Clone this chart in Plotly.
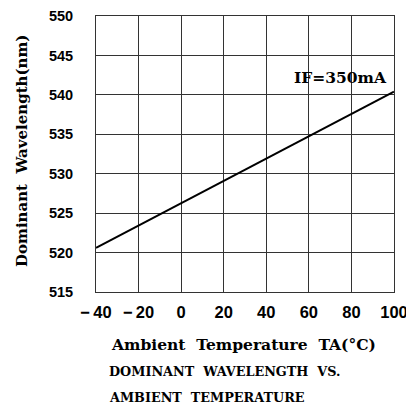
import plotly.graph_objects as go

# Data
temps = [-40, 100]
wavelengths = [520.6, 540.4]
x_ticks = [-40, -20, 0, 20, 40, 60, 80, 100]
x_tick_labels = ["\u2212\u200940", "\u2212\u200920", "0", "20", "40", "60", "80", "100"]
y_ticks = [515, 520, 525, 530, 535, 540, 545, 550]
y_tick_labels = ["515", "520", "525", "530", "535", "540", "545", "550"]
curve_label = "IF=350mA"
x_title = "Ambient  Temperature  TA(\u00b0C)"
y_title = "Dominant  Wavelength(nm)"
caption_lines = ["DOMINANT  WAVELENGTH  VS.", "AMBIENT  TEMPERATURE"]

SERIF = "DejaVu Serif"
SANS = "Liberation Sans"

fig = go.Figure()
fig.add_trace(go.Scatter(x=temps, y=wavelengths, mode="lines",
                         line=dict(color="black", width=2), showlegend=False,
                         hoverinfo="skip"))

# page body has an 8px margin, so the figure is laid out 8px smaller
OFF = 8
W, H = 414 - OFF, 408 - OFF
L = 96 - OFF
T = 16 - OFF
R = W - (394 - OFF)
B = H - (292 - OFF)
fig.update_layout(
    width=W, height=H,
    margin=dict(l=L, r=R, t=T, b=B, autoexpand=False),
    paper_bgcolor="white", plot_bgcolor="white",
    showlegend=False,
)
fig.update_xaxes(range=[-40, 100], tickvals=x_ticks, ticktext=x_tick_labels,
                 showgrid=True, gridcolor="#333", gridwidth=1,
                 showline=True, linecolor="#333", linewidth=1, mirror=True,
                 zeroline=False, ticks="", ticklabelstandoff=5,
                 ticklabeloverflow="allow", automargin=False,
                 tickfont=dict(family=SANS, size=16.5, color="black", weight="bold"))
fig.update_yaxes(range=[515, 550], tickvals=y_ticks, ticktext=y_tick_labels,
                 showgrid=True, gridcolor="#333", gridwidth=1,
                 showline=True, linecolor="#333", linewidth=1, mirror=True,
                 zeroline=False, ticks="", ticklabelstandoff=19,
                 ticklabeloverflow="allow", automargin=False,
                 tickfont=dict(family=SANS, size=14.5, color="black", weight="bold"))

plot_w = W - L - R
plot_h = H - T - B

def px_x(px):
    # px given in reference window pixels
    return (px - OFF - L) / plot_w

def px_y(py):
    return (H - B - (py - OFF)) / plot_h

big_font = dict(family=SERIF, size=15.5, color="black", weight="bold")
ytitle_font = dict(family=SERIF, size=15, color="black", weight="bold")
cap_font = dict(family=SERIF, size=12.8, color="black", weight="bold")

fig.add_annotation(text=curve_label, x=px_x(389), y=px_y(77), xref="paper", yref="paper",
                   xanchor="right", yanchor="middle", showarrow=False, font=big_font)
fig.add_annotation(text=x_title, x=px_x(243), y=px_y(344), xref="paper", yref="paper",
                   xanchor="center", yanchor="middle", showarrow=False, font=big_font)
for i, line in enumerate(caption_lines):
    fig.add_annotation(text=line, x=px_x(107), y=px_y(371 + 26 * i), xref="paper", yref="paper",
                       xanchor="left", yanchor="middle", showarrow=False, font=cap_font)
fig.add_annotation(text=y_title, x=px_x(22), y=px_y(151), xref="paper", yref="paper",
                   xanchor="center", yanchor="middle", textangle=-90, showarrow=False,
                   font=ytitle_font)

fig.write_html("out.html")
